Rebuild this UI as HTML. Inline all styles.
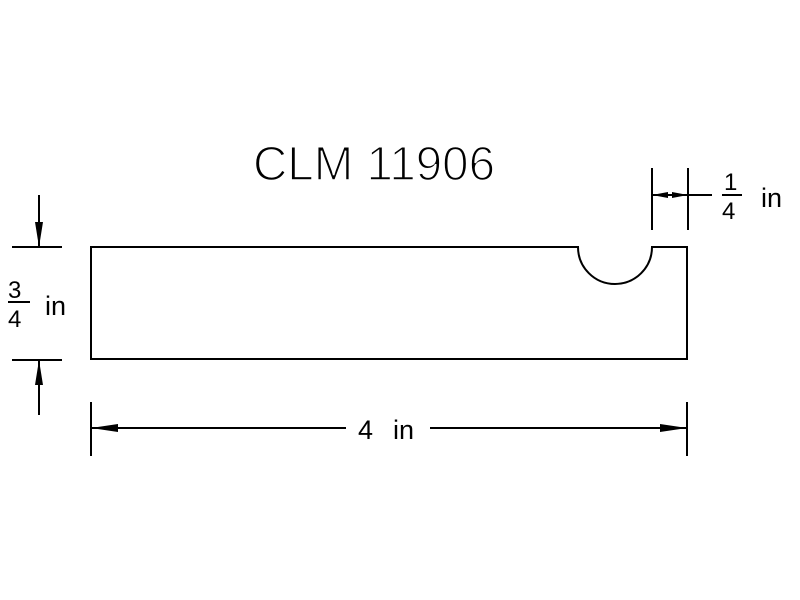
<!DOCTYPE html>
<html><head><style>html,body{margin:0;padding:0;background:#fff}svg{display:block}</style></head>
<body>
<svg width="800" height="600" viewBox="0 0 800 600" xmlns="http://www.w3.org/2000/svg" font-family="Liberation Sans, sans-serif">
<rect width="800" height="600" fill="#fff"/>
<g stroke="#000" stroke-width="2" fill="none">
<path d="M91 247 H578 A37 37 0 0 0 652 247 H687 V359 H91 Z"/>
<line x1="12" y1="247" x2="62" y2="247"/>
<line x1="12" y1="360" x2="62" y2="360"/>
<line x1="39" y1="195" x2="39" y2="247"/>
<line x1="39" y1="360" x2="39" y2="415"/>
<line x1="8" y1="302" x2="30" y2="302"/>
<line x1="91" y1="402" x2="91" y2="456"/>
<line x1="687" y1="402" x2="687" y2="456"/>
<line x1="91" y1="428" x2="346" y2="428"/>
<line x1="430" y1="428" x2="687" y2="428"/>
<line x1="652" y1="168" x2="652" y2="230"/>
<line x1="688" y1="168" x2="688" y2="230"/>
<line x1="652" y1="195" x2="712" y2="195"/>
<line x1="722" y1="195" x2="742" y2="195"/>
</g>
<g fill="#000">
<polygon points="39,247 35,222 43,222"/>
<polygon points="39,360 35,385 43,385"/>
<polygon points="91,428 118,424 118,432"/>
<polygon points="687,428 660,424 660,432"/>
<polygon points="652,195 668,192 668,198"/>
<polygon points="688,195 672,192 672,198"/>
</g>
<g fill="#000">
<text x="253" y="180" font-size="48" textLength="242" lengthAdjust="spacingAndGlyphs" stroke="#fff" stroke-width="1.6" paint-order="normal">CLM 11906</text>
<text x="8" y="298" font-size="24">3</text>
<text x="8" y="327" font-size="24">4</text>
<text x="45" y="315" font-size="27">in</text>
<text x="724" y="190" font-size="24">1</text>
<text x="722" y="219" font-size="24">4</text>
<text x="761" y="207" font-size="27">in</text>
<text x="358" y="439" font-size="27">4</text>
<text x="393" y="439" font-size="27">in</text>
</g>
</svg>
</body></html>
